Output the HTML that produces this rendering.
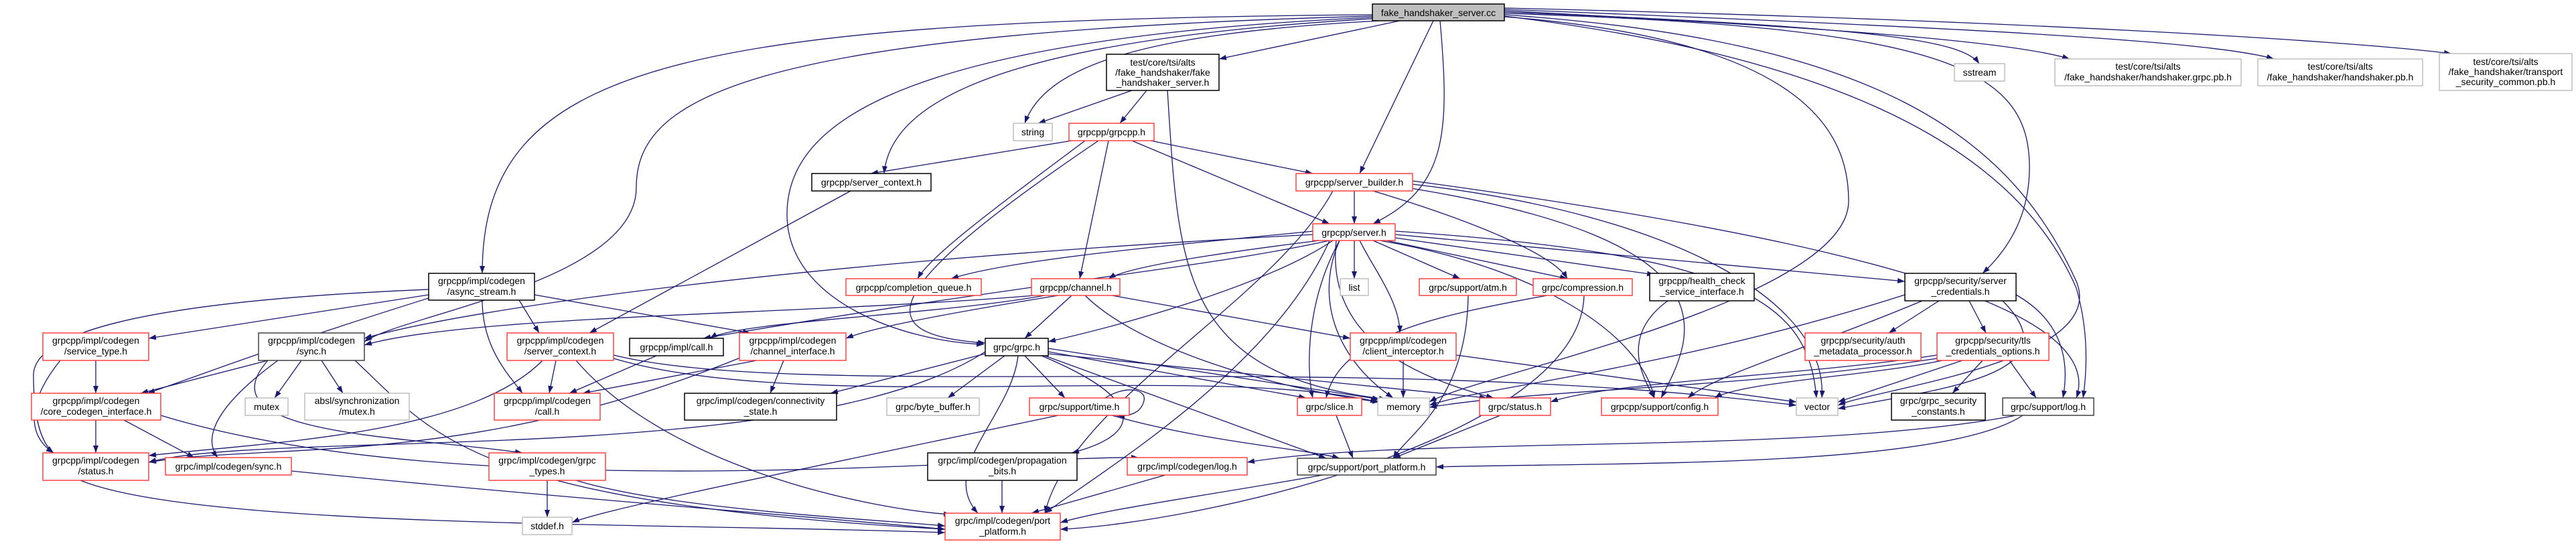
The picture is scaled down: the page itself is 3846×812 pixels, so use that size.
<!DOCTYPE html>
<html><head><meta charset="utf-8"><style>
html,body{margin:0;padding:0;background:#fff;}
svg{display:block;}
text{font-family:"Liberation Sans",sans-serif;font-size:14px;fill:#000;text-anchor:middle;}
.e{fill:none;stroke:#191970;stroke-width:1.3;marker-end:url(#a);}
.b{fill:#fff;stroke:#000;stroke-width:1.5;}
.r{fill:#fff;stroke:#ff4040;stroke-width:1.5;}
.l{fill:#fff;stroke:#bfbfbf;stroke-width:1.5;}
.g{fill:#bfbfbf;stroke:#000;stroke-width:1.5;}
.d{fill:#fff;stroke:#404040;stroke-width:1.5;}
</style></head><body>
<svg width="3846" height="812" viewBox="0 0 3846 812" xmlns="http://www.w3.org/2000/svg">
<defs><marker id="a" markerUnits="userSpaceOnUse" markerWidth="12" markerHeight="9" refX="11" refY="4" orient="auto"><path d="M0,0 L11,4 L0,8 z" fill="#191970"/></marker></defs>
<g>
<path class="e" d="M2049,22 C1000,30 720,100 720,408"/>
<path class="e" d="M2049,24 C1100,50 950,150 950,280 C950,420 600,470 544,510"/>
<path class="e" d="M2049,26 C1300,60 1175,200 1175,320 C1175,450 1350,510 1469,514"/>
<path class="e" d="M2049,28 C1500,60 1330,150 1320,259"/>
<path class="e" d="M2060,31 C1700,50 1560,100 1530,184"/>
<path class="e" d="M2090,31 L1820,88"/>
<path class="e" d="M2140,31 L2030,259"/>
<path class="e" d="M2150,31 C2165,200 2160,280 2050,334"/>
<path class="e" d="M2246,25 C2700,60 2760,200 2760,300 C2760,450 2200,560 2134,600"/>
<path class="e" d="M2246,18 C2800,40 2930,60 2955,95"/>
<path class="e" d="M2246,16 C2700,40 3000,60 3090,88"/>
<path class="e" d="M2246,14 C2900,40 3300,60 3395,88"/>
<path class="e" d="M2246,12 C3000,30 3500,60 3660,80"/>
<path class="e" d="M2246,20 C2900,40 3030,100 3030,250 C3030,330 2990,380 2960,408"/>
<path class="e" d="M2246,22 C2800,60 3000,200 3100,420 C3150,540 2800,580 2744,605"/>
<path class="e" d="M2246,24 C2700,80 3000,200 3100,430 C3120,500 3115,560 3110,594"/>
<path class="e" d="M1690,135 L1550,184"/>
<path class="e" d="M1712,135 L1672,184"/>
<path class="e" d="M1743,135 C1760,400 1760,560 2070,596"/>
<path class="e" d="M1600,210 L1300,259"/>
<path class="e" d="M1718,210 L1960,259"/>
<path class="e" d="M1690,210 L1985,334"/>
<path class="e" d="M1620,210 C1500,300 1390,380 1370,416"/>
<path class="e" d="M1655,210 L1612,416"/>
<path class="e" d="M1640,210 C1300,440 1300,500 1471,512"/>
<path class="e" d="M1270,285 L880,497"/>
<path class="e" d="M2022,285 L2022,334"/>
<path class="e" d="M2050,285 C2200,330 2320,380 2340,416"/>
<path class="e" d="M2100,280 C2600,360 2530,500 2480,594"/>
<path class="e" d="M2109,275 C2500,320 2730,450 2720,594"/>
<path class="e" d="M2109,270 C2700,350 3150,450 3100,594"/>
<path class="e" d="M1990,285 C1900,450 1600,600 1560,766"/>
<path class="e" d="M1962,345 C1700,370 1500,390 1420,416"/>
<path class="e" d="M1970,359 C1800,380 1680,400 1655,416"/>
<path class="e" d="M1962,350 C1200,390 700,460 544,505"/>
<path class="e" d="M1985,359 C1800,400 1550,420 1050,505"/>
<path class="e" d="M1990,359 C1900,420 1700,480 1565,510"/>
<path class="e" d="M2022,359 L2022,416"/>
<path class="e" d="M2050,359 L2180,416"/>
<path class="e" d="M2070,359 L2340,416"/>
<path class="e" d="M2083,355 L2470,410"/>
<path class="e" d="M2083,350 L2844,420"/>
<path class="e" d="M2030,359 C2050,400 2090,450 2090,497"/>
<path class="e" d="M2000,359 C1960,450 2000,540 2080,594"/>
<path class="e" d="M2083,345 C2600,380 2700,450 2712,594"/>
<path class="e" d="M2060,359 C2300,400 2450,500 2470,594"/>
<path class="e" d="M1995,359 C1980,500 2100,560 2230,594"/>
<path class="e" d="M1985,359 C1900,550 1650,700 1560,766"/>
<path class="e" d="M2000,359 C1950,450 1950,550 1960,594"/>
<path class="e" d="M1545,441 C1200,470 700,470 544,515"/>
<path class="e" d="M1560,441 C1400,470 1100,480 1060,505"/>
<path class="e" d="M1580,441 C1400,470 1300,490 1263,505"/>
<path class="e" d="M1600,441 L1530,505"/>
<path class="e" d="M1660,441 L2016,505"/>
<path class="e" d="M1620,441 C1700,520 1900,580 2060,600"/>
<path class="e" d="M640,440 L222,505"/>
<path class="e" d="M640,445 C400,520 300,560 220,587"/>
<path class="e" d="M775,448 L805,497"/>
<path class="e" d="M798,440 L1120,497"/>
<path class="e" d="M640,432 C200,450 50,500 50,560 C50,620 60,660 80,676"/>
<path class="e" d="M720,448 C720,520 760,560 780,587"/>
<path class="e" d="M143,538 L143,587"/>
<path class="e" d="M90,538 C40,600 40,650 80,676"/>
<path class="e" d="M400,538 L210,587"/>
<path class="e" d="M450,538 L410,594"/>
<path class="e" d="M480,538 L512,587"/>
<path class="e" d="M415,538 C330,600 300,650 325,683"/>
<path class="e" d="M530,538 C650,650 700,750 1411,790"/>
<path class="e" d="M400,538 C300,650 600,650 780,676"/>
<path class="e" d="M830,538 L820,587"/>
<path class="e" d="M810,538 C700,650 400,660 222,680"/>
<path class="e" d="M860,538 C1000,700 1300,760 1420,768"/>
<path class="e" d="M916,530 C1200,600 2000,520 2682,605"/>
<path class="e" d="M916,535 C1200,620 1800,540 2057,600"/>
<path class="e" d="M980,531 L850,587"/>
<path class="e" d="M1130,538 L870,587"/>
<path class="e" d="M1170,538 L1150,587"/>
<path class="e" d="M1110,532 C700,700 400,660 222,690"/>
<path class="e" d="M1471,528 L1240,587"/>
<path class="e" d="M1500,531 L1415,594"/>
<path class="e" d="M1530,531 L1590,594"/>
<path class="e" d="M1565,525 L1950,594"/>
<path class="e" d="M1565,528 L2220,594"/>
<path class="e" d="M1560,531 L1980,684"/>
<path class="e" d="M1555,531 C1720,600 1700,650 1600,676"/>
<path class="e" d="M1520,531 C1510,620 1400,700 1460,766"/>
<path class="e" d="M1565,520 L2060,596"/>
<path class="e" d="M1471,525 C1200,700 400,640 222,690"/>
<path class="e" d="M2095,538 L2095,594"/>
<path class="e" d="M2174,530 L2682,600"/>
<path class="e" d="M2310,441 C2150,470 2000,500 1980,594"/>
<path class="e" d="M2365,441 C2360,650 1800,780 1583,790"/>
<path class="e" d="M2192,441 C2190,600 2100,650 2080,684"/>
<path class="e" d="M2490,449 C2420,500 2450,560 2470,594"/>
<path class="e" d="M2895,449 L2820,497"/>
<path class="e" d="M2940,449 L2965,497"/>
<path class="e" d="M2844,440 C2500,550 2200,580 2134,605"/>
<path class="e" d="M2870,449 C2700,520 2560,560 2520,594"/>
<path class="e" d="M2990,449 C3100,560 2900,580 2744,610"/>
<path class="e" d="M3010,440 C3080,480 3090,540 3080,594"/>
<path class="e" d="M2960,538 L2915,587"/>
<path class="e" d="M3000,538 L3040,594"/>
<path class="e" d="M2930,538 L2744,600"/>
<path class="e" d="M2892,535 C2600,580 2300,580 2134,608"/>
<path class="e" d="M2892,530 C2700,560 2400,570 2315,600"/>
<path class="e" d="M2900,538 C2800,560 2600,570 2560,594"/>
<path class="e" d="M143,627 L143,676"/>
<path class="e" d="M185,627 L290,683"/>
<path class="e" d="M240,620 C700,760 1500,680 1700,683"/>
<path class="e" d="M120,717 C300,790 1000,780 1411,795"/>
<path class="e" d="M435,703 C800,740 1200,770 1411,790"/>
<path class="e" d="M860,717 C1000,760 1300,775 1411,785"/>
<path class="e" d="M817,717 L817,772"/>
<path class="e" d="M1496,717 L1496,766"/>
<path class="e" d="M1740,709 L1540,766"/>
<path class="e" d="M1975,709 C1800,740 1650,760 1583,780"/>
<path class="e" d="M1660,620 C1800,660 1950,670 2000,684"/>
<path class="e" d="M1580,620 C1200,700 900,760 854,780"/>
<path class="e" d="M1650,594 C1680,575 1712,580 1708,598 C1704,615 1690,621 1668,621"/>
<path class="e" d="M2240,620 L2080,684"/>
<path class="e" d="M1995,620 L2020,684"/>
<path class="e" d="M3020,620 C2900,700 2400,690 2144,697"/>
<path class="e" d="M3010,620 C2700,680 2100,650 1862,690"/>
</g>
<g>
<rect class="g" x="2049" y="6" width="197" height="25"/><text x="2147.5" y="24">fake_handshaker_server.cc</text>
<rect class="b" x="1652" y="81" width="168" height="54"/><text x="1736" y="98">test/core/tsi/alts</text><text x="1736" y="113">/fake_handshaker/fake</text><text x="1736" y="128">_handshaker_server.h</text>
<rect class="l" x="2918" y="95" width="75" height="26"/><text x="2955.5" y="113">sstream</text>
<rect class="l" x="3068" y="88" width="278" height="40"/><text x="3207" y="104">test/core/tsi/alts</text><text x="3207" y="120">/fake_handshaker/handshaker.grpc.pb.h</text>
<rect class="l" x="3371" y="88" width="246" height="40"/><text x="3494" y="104">test/core/tsi/alts</text><text x="3494" y="120">/fake_handshaker/handshaker.pb.h</text>
<rect class="l" x="3642" y="80" width="198" height="55"/><text x="3741" y="97">test/core/tsi/alts</text><text x="3741" y="112">/fake_handshaker/transport</text><text x="3741" y="127">_security_common.pb.h</text>
<rect class="l" x="1513" y="184" width="58" height="26"/><text x="1542" y="202">string</text>
<rect class="r" x="1596" y="184" width="127" height="26"/><text x="1659.5" y="202">grpcpp/grpcpp.h</text>
<rect class="b" x="1212" y="259" width="178" height="26"/><text x="1301" y="277">grpcpp/server_context.h</text>
<rect class="r" x="1935" y="259" width="174" height="26"/><text x="2022" y="277">grpcpp/server_builder.h</text>
<rect class="r" x="1960" y="334" width="123" height="25"/><text x="2021.5" y="352">grpcpp/server.h</text>
<rect class="b" x="640" y="408" width="158" height="40"/><text x="719" y="424">grpcpp/impl/codegen</text><text x="719" y="440">/async_stream.h</text>
<rect class="r" x="1263" y="416" width="202" height="25"/><text x="1364" y="434">grpcpp/completion_queue.h</text>
<rect class="r" x="1540" y="416" width="132" height="25"/><text x="1606" y="434">grpcpp/channel.h</text>
<rect class="l" x="2001" y="416" width="42" height="25"/><text x="2022" y="434">list</text>
<rect class="r" x="2119" y="416" width="145" height="25"/><text x="2191.5" y="434">grpc/support/atm.h</text>
<rect class="r" x="2289" y="416" width="148" height="25"/><text x="2363" y="434">grpc/compression.h</text>
<rect class="b" x="2463" y="408" width="156" height="41"/><text x="2541" y="424">grpcpp/health_check</text><text x="2541" y="440">_service_interface.h</text>
<rect class="b" x="2844" y="408" width="166" height="41"/><text x="2927" y="424">grpcpp/security/server</text><text x="2927" y="440">_credentials.h</text>
<rect class="r" x="64" y="497" width="158" height="41"/><text x="143" y="513">grpcpp/impl/codegen</text><text x="143" y="529">/service_type.h</text>
<rect class="d" x="386" y="497" width="158" height="41"/><text x="465" y="513">grpcpp/impl/codegen</text><text x="465" y="529">/sync.h</text>
<rect class="r" x="757" y="497" width="159" height="41"/><text x="836.5" y="513">grpcpp/impl/codegen</text><text x="836.5" y="529">/server_context.h</text>
<rect class="b" x="940" y="505" width="140" height="26"/><text x="1010" y="523">grpcpp/impl/call.h</text>
<rect class="r" x="1104" y="497" width="159" height="41"/><text x="1183.5" y="513">grpcpp/impl/codegen</text><text x="1183.5" y="529">/channel_interface.h</text>
<rect class="b" x="1471" y="505" width="94" height="26"/><text x="1518" y="523">grpc/grpc.h</text>
<rect class="r" x="2016" y="497" width="158" height="41"/><text x="2095" y="513">grpcpp/impl/codegen</text><text x="2095" y="529">/client_interceptor.h</text>
<rect class="r" x="2695" y="497" width="173" height="41"/><text x="2781.5" y="513">grpcpp/security/auth</text><text x="2781.5" y="529">_metadata_processor.h</text>
<rect class="r" x="2892" y="497" width="167" height="41"/><text x="2975.5" y="513">grpcpp/security/tls</text><text x="2975.5" y="529">_credentials_options.h</text>
<rect class="r" x="47" y="587" width="193" height="40"/><text x="143.5" y="603">grpcpp/impl/codegen</text><text x="143.5" y="619">/core_codegen_interface.h</text>
<rect class="l" x="366" y="594" width="64" height="26"/><text x="398" y="612">mutex</text>
<rect class="l" x="455" y="587" width="156" height="40"/><text x="533" y="603">absl/synchronization</text><text x="533" y="619">/mutex.h</text>
<rect class="r" x="738" y="587" width="158" height="40"/><text x="817" y="603">grpcpp/impl/codegen</text><text x="817" y="619">/call.h</text>
<rect class="b" x="1022" y="587" width="227" height="40"/><text x="1135.5" y="603">grpc/impl/codegen/connectivity</text><text x="1135.5" y="619">_state.h</text>
<rect class="l" x="1324" y="594" width="138" height="26"/><text x="1393" y="612">grpc/byte_buffer.h</text>
<rect class="r" x="1537" y="594" width="149" height="26"/><text x="1611.5" y="612">grpc/support/time.h</text>
<rect class="r" x="1937" y="594" width="96" height="26"/><text x="1985" y="612">grpc/slice.h</text>
<rect class="l" x="2057" y="594" width="77" height="26"/><text x="2095.5" y="612">memory</text>
<rect class="r" x="2209" y="594" width="106" height="26"/><text x="2262" y="612">grpc/status.h</text>
<rect class="r" x="2391" y="594" width="174" height="26"/><text x="2478" y="612">grpcpp/support/config.h</text>
<rect class="l" x="2682" y="594" width="62" height="26"/><text x="2713" y="612">vector</text>
<rect class="b" x="2824" y="587" width="140" height="40"/><text x="2894" y="603">grpc/grpc_security</text><text x="2894" y="619">_constants.h</text>
<rect class="d" x="2990" y="594" width="136" height="26"/><text x="3058" y="612">grpc/support/log.h</text>
<rect class="r" x="64" y="676" width="158" height="41"/><text x="143" y="692">grpcpp/impl/codegen</text><text x="143" y="708">/status.h</text>
<rect class="r" x="247" y="683" width="188" height="26"/><text x="341" y="701">grpc/impl/codegen/sync.h</text>
<rect class="r" x="730" y="676" width="174" height="41"/><text x="817" y="692">grpc/impl/codegen/grpc</text><text x="817" y="708">_types.h</text>
<rect class="b" x="1385" y="676" width="223" height="41"/><text x="1496.5" y="692">grpc/impl/codegen/propagation</text><text x="1496.5" y="708">_bits.h</text>
<rect class="r" x="1683" y="683" width="179" height="26"/><text x="1772.5" y="701">grpc/impl/codegen/log.h</text>
<rect class="d" x="1937" y="684" width="207" height="25"/><text x="2040.5" y="702">grpc/support/port_platform.h</text>
<rect class="r" x="1411" y="766" width="172" height="40"/><text x="1497" y="782">grpc/impl/codegen/port</text><text x="1497" y="798">_platform.h</text>
<rect class="l" x="780" y="772" width="74" height="26"/><text x="817" y="790">stddef.h</text>
</g>
</svg>
</body></html>
